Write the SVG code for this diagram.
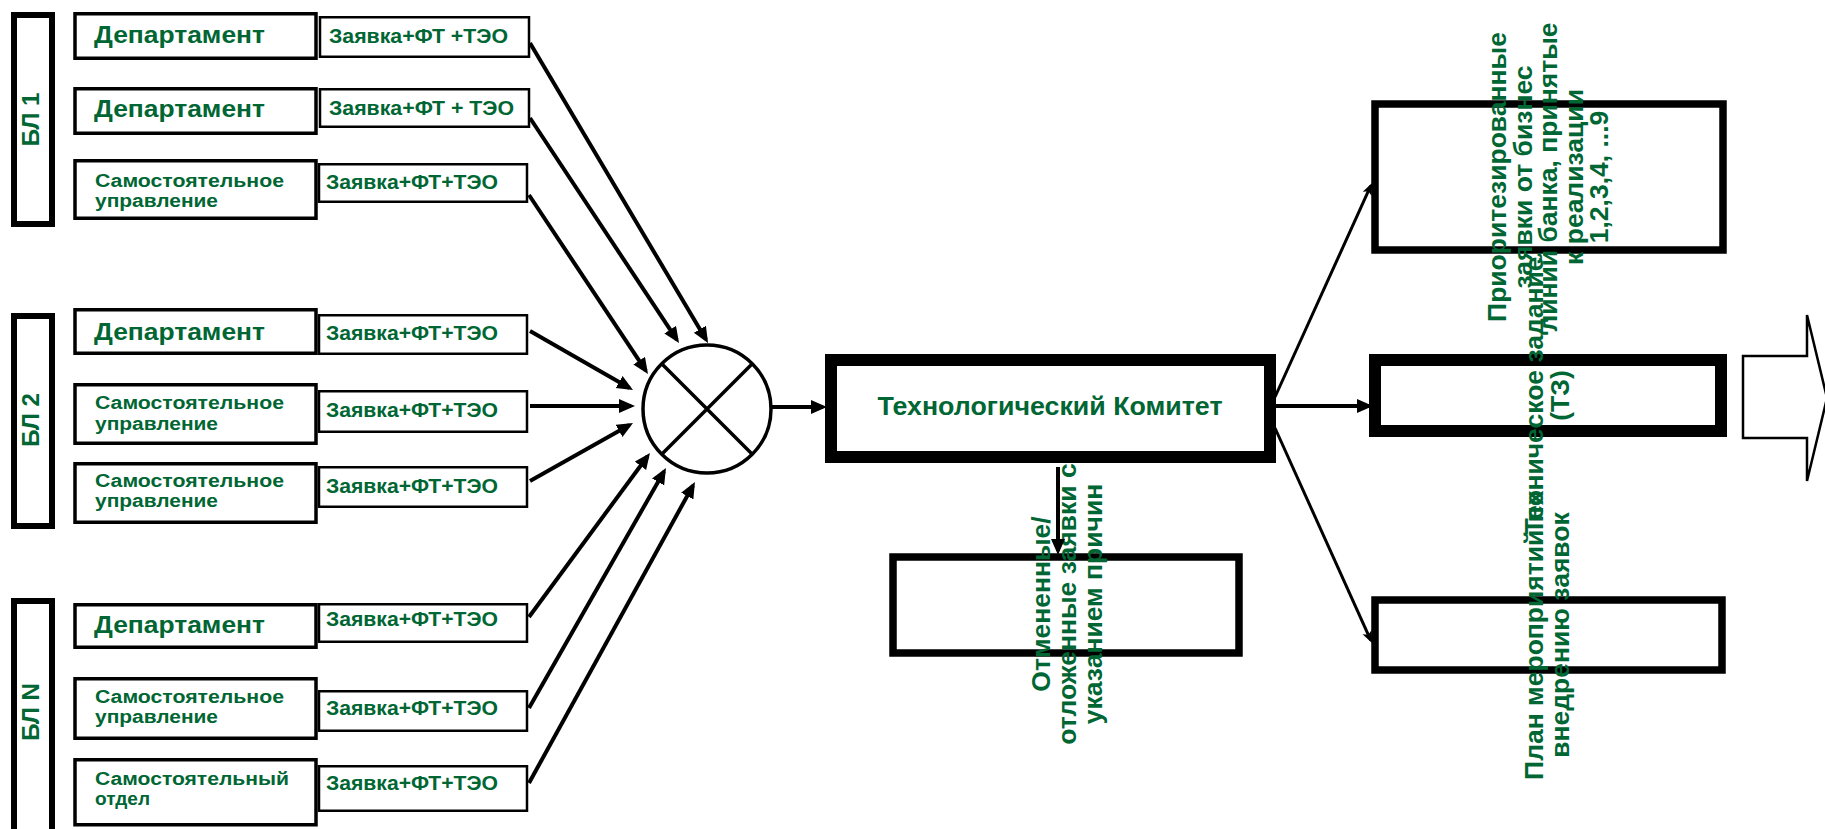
<svg xmlns="http://www.w3.org/2000/svg" width="1825" height="829" viewBox="0 0 1825 829">
<style>
.bl{fill:#fff;stroke:#000;stroke-width:6}
.dep{fill:#fff;stroke:#000;stroke-width:3.5}
.req{fill:#fff;stroke:#000;stroke-width:2.5}
.thick{fill:#fff;stroke:#000;stroke-width:12}
.mid{fill:#fff;stroke:#000;stroke-width:7.5}
.t{font-family:"Liberation Sans",Arial,sans-serif;font-weight:bold;fill:#006633}
.t24{font-size:24px}
.t20{font-size:20px}
.t18{font-size:18px}
.t26{font-size:26px}
.r{font-size:26.5px;text-anchor:middle}
.c{stroke:#000;fill:none}
.c4{stroke-width:4;marker-end:url(#ah)}
.c3{stroke-width:3;marker-end:url(#as)}
</style>
<defs>
<marker id="ah" markerUnits="userSpaceOnUse" markerWidth="18" markerHeight="16" refX="12" refY="7" orient="auto">
<path d="M0,0 L16,7 L0,14 z" fill="#000"/>
</marker>
<marker id="as" markerUnits="userSpaceOnUse" markerWidth="14" markerHeight="12" refX="9" refY="5" orient="auto">
<path d="M0,0 L12,5 L0,10 L3,5 z" fill="#000"/>
</marker>
</defs>
<rect width="1825" height="829" fill="#fff"/>

<g id="bl1"><rect class="bl" x="14" y="15" width="38" height="209"/><text class="t t24" text-anchor="middle" transform="translate(39,119.5) rotate(-90)">БЛ 1</text></g>
<g id="bl2"><rect class="bl" x="14" y="316" width="38" height="210"/><text class="t t24" text-anchor="middle" transform="translate(39,420) rotate(-90)">БЛ 2</text></g>
<g id="bln"><rect class="bl" x="14" y="601" width="38" height="240"/><text class="t t24" text-anchor="middle" transform="translate(39,712) rotate(-90)">БЛ N</text></g>

<g id="r1-unit"><rect class="dep" x="75" y="13.75" width="241" height="44.5"/><text class="t t24" x="94" y="43" textLength="171" lengthAdjust="spacingAndGlyphs">Департамент</text></g>
<g id="r1-req"><rect class="req" x="320" y="17.25" width="209" height="39.5"/><text class="t t20" x="329" y="43" textLength="179" lengthAdjust="spacingAndGlyphs">Заявка+ФТ +ТЭО</text></g>

<g id="r2-unit"><rect class="dep" x="75" y="88.75" width="241" height="44.5"/><text class="t t24" x="94" y="117" textLength="171" lengthAdjust="spacingAndGlyphs">Департамент</text></g>
<g id="r2-req"><rect class="req" x="320" y="89.25" width="209" height="37.5"/><text class="t t20" x="329" y="115" textLength="185" lengthAdjust="spacingAndGlyphs">Заявка+ФТ + ТЭО</text></g>

<g id="r3-unit"><rect class="dep" x="75" y="160.75" width="241" height="57.5"/><text class="t t18" x="95" y="187" textLength="189" lengthAdjust="spacingAndGlyphs">Самостоятельное</text><text class="t t18" x="95" y="207" textLength="123" lengthAdjust="spacingAndGlyphs">управление</text></g>
<g id="r3-req"><rect class="req" x="319" y="164.25" width="208" height="37.5"/><text class="t t20" x="326" y="189" textLength="172" lengthAdjust="spacingAndGlyphs">Заявка+ФТ+ТЭО</text></g>

<g id="r4-unit"><rect class="dep" x="75" y="309.75" width="241" height="43.5"/><text class="t t24" x="94" y="340" textLength="171" lengthAdjust="spacingAndGlyphs">Департамент</text></g>
<g id="r4-req"><rect class="req" x="319" y="315.25" width="208" height="38.5"/><text class="t t20" x="326" y="340" textLength="172" lengthAdjust="spacingAndGlyphs">Заявка+ФТ+ТЭО</text></g>

<g id="r5-unit"><rect class="dep" x="75" y="384.75" width="241" height="58.5"/><text class="t t18" x="95" y="409" textLength="189" lengthAdjust="spacingAndGlyphs">Самостоятельное</text><text class="t t18" x="95" y="430" textLength="123" lengthAdjust="spacingAndGlyphs">управление</text></g>
<g id="r5-req"><rect class="req" x="319" y="391.25" width="208" height="40.5"/><text class="t t20" x="326" y="417" textLength="172" lengthAdjust="spacingAndGlyphs">Заявка+ФТ+ТЭО</text></g>

<g id="r6-unit"><rect class="dep" x="75" y="463.75" width="241" height="58.5"/><text class="t t18" x="95" y="487" textLength="189" lengthAdjust="spacingAndGlyphs">Самостоятельное</text><text class="t t18" x="95" y="507" textLength="123" lengthAdjust="spacingAndGlyphs">управление</text></g>
<g id="r6-req"><rect class="req" x="319" y="467.25" width="208" height="39.5"/><text class="t t20" x="326" y="493" textLength="172" lengthAdjust="spacingAndGlyphs">Заявка+ФТ+ТЭО</text></g>

<g id="r7-unit"><rect class="dep" x="75" y="604.75" width="241" height="42.5"/><text class="t t24" x="94" y="633" textLength="171" lengthAdjust="spacingAndGlyphs">Департамент</text></g>
<g id="r7-req"><rect class="req" x="319" y="604.25" width="208" height="37.5"/><text class="t t20" x="326" y="626" textLength="172" lengthAdjust="spacingAndGlyphs">Заявка+ФТ+ТЭО</text></g>

<g id="r8-unit"><rect class="dep" x="75" y="678.75" width="241" height="59.5"/><text class="t t18" x="95" y="703" textLength="189" lengthAdjust="spacingAndGlyphs">Самостоятельное</text><text class="t t18" x="95" y="723" textLength="123" lengthAdjust="spacingAndGlyphs">управление</text></g>
<g id="r8-req"><rect class="req" x="319" y="691.25" width="208" height="39.5"/><text class="t t20" x="326" y="715" textLength="172" lengthAdjust="spacingAndGlyphs">Заявка+ФТ+ТЭО</text></g>

<g id="r9-unit"><rect class="dep" x="75" y="759.75" width="241" height="65"/><text class="t t18" x="95" y="785" textLength="194" lengthAdjust="spacingAndGlyphs">Самостоятельный</text><text class="t t18" x="95" y="805" textLength="55" lengthAdjust="spacingAndGlyphs">отдел</text></g>
<g id="r9-req"><rect class="req" x="319" y="766.25" width="208" height="44.5"/><text class="t t20" x="326" y="790" textLength="172" lengthAdjust="spacingAndGlyphs">Заявка+ФТ+ТЭО</text></g>

<g id="merge">
<circle cx="707" cy="409" r="64" fill="#fff" stroke="#000" stroke-width="3.5"/>
<path d="M662,364 L752,454 M752,364 L662,454" stroke="#000" stroke-width="3.5"/>
</g>

<g id="committee"><rect class="thick" x="831" y="360" width="439" height="97"/><text class="t t26" x="1050" y="415" text-anchor="middle" textLength="345" lengthAdjust="spacingAndGlyphs">Технологический Комитет</text></g>

<g id="cancelled"><rect class="mid" x="893" y="557" width="346" height="96"/>
<text class="t r" transform="translate(1050,604) rotate(-90)">Отмененные/</text>
<text class="t r" transform="translate(1076,604) rotate(-90)">отложенные заявки с</text>
<text class="t r" transform="translate(1102,604) rotate(-90)">указанием причин</text>
</g>

<g id="prioritized"><rect class="mid" x="1375" y="104" width="348" height="146"/>
<text class="t r" transform="translate(1506,177) rotate(-90)">Приоритезированные</text>
<text class="t r" transform="translate(1531.5,177) rotate(-90)">заявки от бизнес</text>
<text class="t r" transform="translate(1557,177) rotate(-90)">линий банка, принятые</text>
<text class="t r" transform="translate(1582.5,177) rotate(-90)">к реализации</text>
<text class="t r" transform="translate(1608,177) rotate(-90)">1,2,3,4, ...9</text>
</g>

<g id="tz"><rect class="thick" x="1375" y="360" width="346" height="71"/>
<text class="t r" transform="translate(1543,395.5) rotate(-90)">Техническое задание</text>
<text class="t r" transform="translate(1569,395.5) rotate(-90)">(ТЗ)</text>
</g>

<g id="plan"><rect class="mid" x="1375" y="600" width="347" height="70"/>
<text class="t r" transform="translate(1543,635) rotate(-90)">План мероприятий по</text>
<text class="t r" transform="translate(1569,635) rotate(-90)">внедрению заявок</text>
</g>

<g id="output-arrow">
<path d="M1743,356 L1807,356 L1807,315 L1827,398 L1807,481 L1807,438 L1743,438 Z" fill="#fff" stroke="#000" stroke-width="2.5"/>
</g>

<g id="connectors" class="c">
<path class="c4" d="M530,43 L706,339.6"/>
<path class="c4" d="M530,118 L676.8,339.7"/>
<path class="c4" d="M529,195 L645.8,370.7"/>
<path class="c4" d="M530,331 L629.5,388"/>
<path class="c4" d="M530,406 L631,406"/>
<path class="c4" d="M530,481 L629.5,425"/>
<path class="c4" d="M529,617 L647.6,456.2"/>
<path class="c4" d="M529,708 L664,471.5"/>
<path class="c4" d="M529,783 L693,485.5"/>
<path class="c4" d="M772,407 L823,407"/>
<path class="c4" d="M1058,467 L1058,551"/>
<path class="c3" d="M1275,397 L1370.8,185.7"/>
<path class="c4" d="M1276,406 L1369,406"/>
<path class="c3" d="M1275,428 L1370.8,640.3"/>
</g>
</svg>
